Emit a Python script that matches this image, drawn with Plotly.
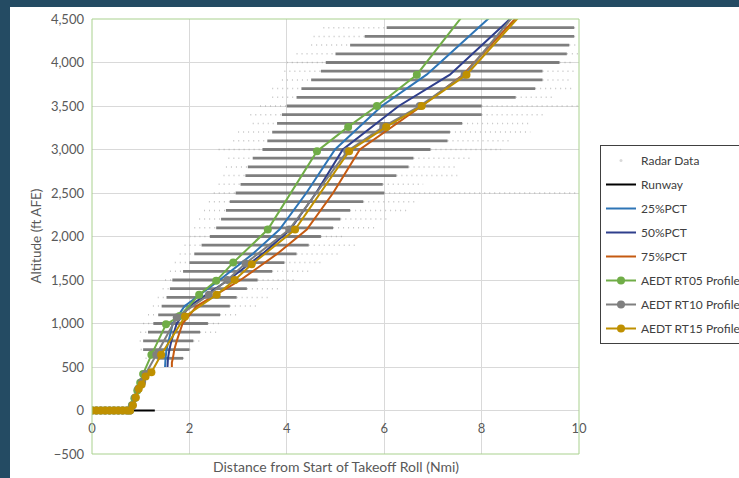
import plotly.graph_objects as go

# ---------------- data ----------------
x_ticks = [0, 2, 4, 6, 8, 10]
y_ticks = [-500, 0, 500, 1000, 1500, 2000, 2500, 3000, 3500, 4000, 4500]

# Radar data bands: altitude level, sparse start, dense start, dense end, sparse end (Nmi)
radar_alt = [600, 700, 800, 900, 1000, 1100, 1200, 1300, 1400, 1500, 1600, 1700, 1800, 1900,
             2000, 2100, 2200, 2300, 2400, 2500, 2600, 2700, 2800, 2900, 3000, 3100, 3200, 3300,
             3400, 3500, 3600, 3700, 3800, 3900, 4000, 4100, 4200, 4300, 4400]
radar_sparse_lo = [1.10, 1.00, 0.98, 0.99, 1.05, 1.15, 1.25, 1.35, 1.45, 1.50, 1.60, 1.70, 1.80, 1.90,
                   2.00, 2.10, 2.20, 2.30, 2.40, 2.50, 2.60, 2.70, 2.75, 2.80, 2.60, 2.90, 3.00, 3.30,
                   3.25, 3.45, 3.70, 3.70, 3.90, 3.95, 4.00, 4.20, 4.50, 4.55, 4.75]
radar_dense_lo = [1.33, 1.05, 1.05, 1.15, 1.26, 1.36, 1.43, 1.53, 1.60, 1.65, 1.87, 2.00, 2.10, 2.25,
                  2.42, 2.55, 2.65, 2.75, 2.83, 2.95, 3.05, 3.15, 3.20, 3.30, 3.50, 3.60, 3.70, 3.80,
                  3.90, 4.00, 4.20, 4.30, 4.50, 4.70, 4.80, 5.00, 5.30, 5.60, 6.05]
radar_dense_hi = [1.87, 2.00, 2.08, 2.22, 2.38, 2.63, 2.83, 2.97, 3.18, 3.40, 3.70, 3.95, 4.20, 4.45,
                  4.70, 4.95, 5.10, 5.30, 5.57, 6.00, 5.97, 6.25, 6.50, 6.60, 6.95, 7.30, 7.35, 7.60,
                  8.00, 8.00, 8.70, 9.10, 9.25, 9.25, 9.60, 9.75, 9.80, 9.90, 9.90]
radar_sparse_hi = [1.95, 2.10, 2.28, 2.63, 2.63, 2.97, 3.38, 3.66, 3.90, 4.20, 4.50, 4.70, 5.05, 5.40,
                   5.20, 5.80, 6.05, 6.50, 6.70, 10.0, 6.80, 7.50, 7.50, 7.80, 8.40, 8.60, 9.00, 9.00,
                   9.30, 10.0, 9.50, 9.90, 9.80, 9.90, 9.90, 10.0, 10.0, 10.0, 10.0]

runway_x = [0.0, 1.29]
runway_y = [0, 0]

pct_alt = [500, 550, 600, 700, 800, 1000, 1200, 1500, 1800, 2080, 2500, 3000, 3500, 3860, 4000, 4550]
pct25_x = [1.50, 1.50, 1.51, 1.53, 1.57, 1.66, 1.90, 2.62, 3.30, 3.85, 4.40, 4.99, 5.95, 6.87, 7.15, 8.23]
pct50_x = [1.55, 1.55, 1.56, 1.59, 1.63, 1.74, 2.00, 2.80, 3.50, 4.07, 4.60, 5.15, 6.30, 7.35, 7.62, 8.68]
pct75_x = [1.64, 1.64, 1.66, 1.69, 1.74, 1.86, 2.15, 3.05, 3.80, 4.41, 4.95, 5.50, 6.77, 7.62, 7.85, 8.77]

ground_x = [0.0, 0.09, 0.18, 0.27, 0.36, 0.45, 0.54, 0.63, 0.72, 0.78]
rt05_x = ground_x + [0.82, 0.87, 0.93, 0.99, 1.05, 1.22, 1.52, 1.80, 2.20, 2.55, 2.90, 3.61, 4.62, 5.26, 5.85, 6.67, 7.70]
rt05_y = [0] * 10 + [60, 140, 230, 320, 420, 640, 990, 1085, 1330, 1490, 1700, 2080, 2980, 3260, 3500, 3860, 4600]
rt10_x = ground_x + [0.83, 0.89, 0.95, 1.03, 1.10, 1.32, 1.74, 2.40, 2.78, 3.15, 4.05, 5.24, 5.98, 6.73, 7.65, 8.75]
rt10_y = [0] * 10 + [60, 150, 250, 330, 420, 640, 1070, 1330, 1500, 1690, 2080, 2980, 3260, 3500, 3860, 4600]
rt15_x = ground_x + [0.84, 0.90, 0.96, 1.02, 1.10, 1.22, 1.42, 1.91, 2.56, 2.93, 3.28, 4.17, 5.28, 6.04, 6.77, 7.69, 8.89]
rt15_y = [0] * 10 + [60, 150, 250, 300, 390, 440, 640, 1080, 1330, 1500, 1680, 2080, 2980, 3260, 3500, 3860, 4600]

# ---------------- styling ----------------
FONT = "Lato"
TXT = "#595959"

# build radar band segments
dense_x, dense_y, sparse_x, sparse_y = [], [], [], []
for a, slo, dlo, dhi, shi in zip(radar_alt, radar_sparse_lo, radar_dense_lo, radar_dense_hi, radar_sparse_hi):
    dense_x += [dlo, dhi, None]
    dense_y += [a, a, None]
    sparse_x += [slo, dlo, None, dhi, shi, None]
    sparse_y += [a, a, None, a, a, None]

fig = go.Figure()
fig.add_trace(go.Scatter(x=sparse_x, y=sparse_y, mode="lines", showlegend=False, hoverinfo="skip",
                         line=dict(color="rgba(140,140,140,0.5)", width=1.5, dash="1px,4px")))
fig.add_trace(go.Scatter(x=dense_x, y=dense_y, mode="lines", showlegend=False, hoverinfo="skip",
                         line=dict(color="rgba(105,105,105,0.85)", width=2.8)))
fig.add_trace(go.Scatter(x=[None], y=[None], mode="markers", name="Radar Data", legendgroup="a",
                         marker=dict(color="#d9d9d9", size=3)))
fig.add_trace(go.Scatter(x=runway_x, y=runway_y, mode="lines", name="Runway", legendgroup="b",
                         line=dict(color="#000000", width=2)))
fig.add_trace(go.Scatter(x=pct25_x, y=pct_alt, mode="lines", name="25%PCT", legendgroup="c",
                         line=dict(color="#2e75b6", width=2)))
fig.add_trace(go.Scatter(x=pct50_x, y=pct_alt, mode="lines", name="50%PCT", legendgroup="d",
                         line=dict(color="#2f3f8c", width=2)))
fig.add_trace(go.Scatter(x=pct75_x, y=pct_alt, mode="lines", name="75%PCT", legendgroup="e",
                         line=dict(color="#c55a11", width=2)))
fig.add_trace(go.Scatter(x=rt05_x, y=rt05_y, mode="lines+markers", name="AEDT RT05 Profile", legendgroup="f",
                         line=dict(color="#70ad47", width=2), marker=dict(color="#70ad47", size=8)))
fig.add_trace(go.Scatter(x=rt10_x, y=rt10_y, mode="lines+markers", name="AEDT RT10 Profile", legendgroup="g",
                         line=dict(color="#7f7f7f", width=2), marker=dict(color="#7f7f7f", size=8)))
fig.add_trace(go.Scatter(x=rt15_x, y=rt15_y, mode="lines+markers", name="AEDT RT15 Profile", legendgroup="h",
                         line=dict(color="#bf9000", width=2), marker=dict(color="#bf9000", size=8)))

L, R, T, B = 92, 160, 19, 24
W, H = 739, 478
pw, ph = W - L - R, H - T - B

def px2paper_x(px):
    return (px - L) / pw

def px2paper_y(py):
    return (H - B - py) / ph

fig.update_layout(
    width=W, height=H,
    margin=dict(l=L, r=R, t=T, b=B, autoexpand=False),
    paper_bgcolor="#244b63",
    plot_bgcolor="#ffffff",
    font=dict(family=FONT, color=TXT, size=13),
    showlegend=True,
    legend=dict(
        x=px2paper_x(600), y=px2paper_y(145), xanchor="left", yanchor="top",
        bgcolor="#ffffff", bordercolor="#404040", borderwidth=1,
        font=dict(family=FONT, size=12, color="#404040"),
        traceorder="grouped", tracegroupgap=5,
    ),
    xaxis=dict(
        range=[0, 10], tickvals=x_ticks, showgrid=True, gridcolor="#d9d9d9", gridwidth=1,
        zeroline=False, showline=False, ticks="", anchor="free", position=0.1,
        ticklabelstandoff=8,
        tickfont=dict(family=FONT, size=13, color=TXT),
    ),
    yaxis=dict(
        range=[-500, 4500], tickvals=y_ticks, tickformat=",", showgrid=True, gridcolor="#d9d9d9",
        gridwidth=1, zeroline=False, showline=False, ticks="", ticklabelstandoff=7,
        tickfont=dict(family=FONT, size=13, color=TXT),
    ),
    shapes=[
        dict(type="rect", xref="paper", yref="paper", layer="below",
             x0=px2paper_x(10), x1=px2paper_x(745), y0=px2paper_y(485), y1=px2paper_y(7),
             fillcolor="#ffffff", line=dict(width=0)),
        dict(type="rect", xref="paper", yref="paper", layer="above",
             x0=0, x1=1, y0=0, y1=1, line=dict(color="#a9d18e", width=1)),
    ],
    annotations=[
        dict(text="Altitude (ft AFE)", xref="paper", yref="paper", x=px2paper_x(35), y=0.5,
             textangle=-90, showarrow=False, xanchor="center", yanchor="middle",
             font=dict(family=FONT, size=13.5, color=TXT)),
        dict(text="Distance from Start of Takeoff Roll (Nmi)", xref="paper", yref="paper",
             x=0.5, y=px2paper_y(466), showarrow=False, xanchor="center", yanchor="middle",
             font=dict(family=FONT, size=14, color=TXT)),
    ],
)

fig.write_html("out.html", config={"displayModeBar": False},
               post_script="document.body.style.margin='0px';")
